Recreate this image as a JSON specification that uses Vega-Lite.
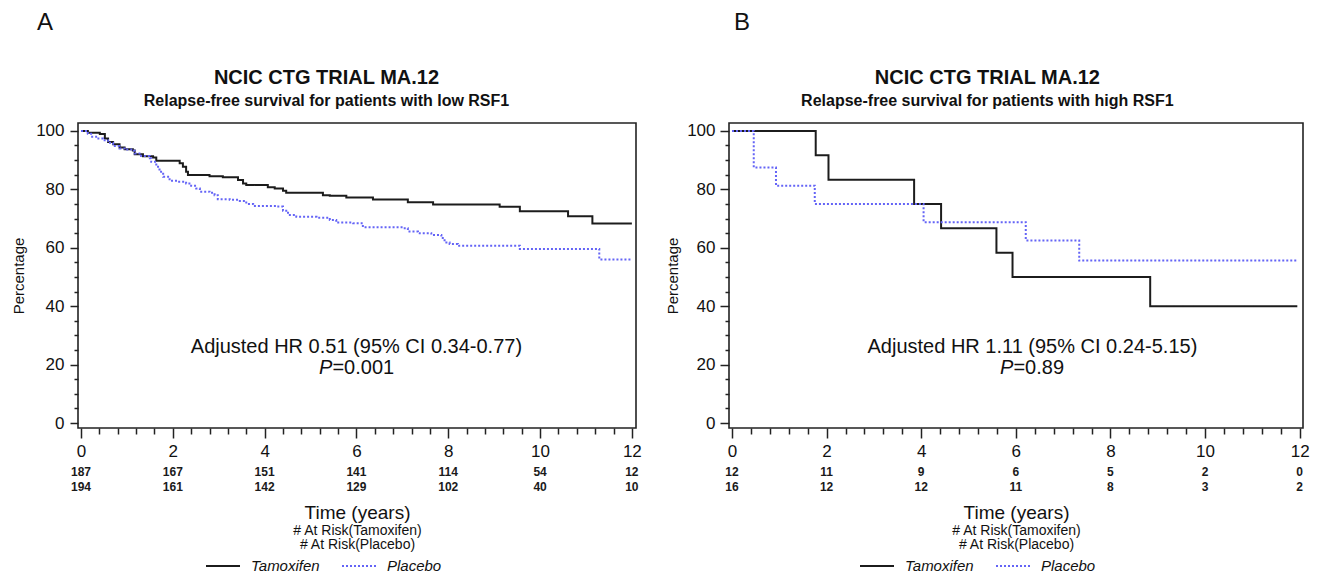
{
  "$schema": "https://vega.github.io/schema/vega-lite/v6.json",
  "background": "white",
  "padding": {"left": 10, "top": 11, "right": 5, "bottom": 0},
  "datasets": {
    "kmA": [
      {"time": 0, "surv": 100, "group": "Tamoxifen"},
      {"time": 0.15, "surv": 99.4, "group": "Tamoxifen"},
      {"time": 0.41, "surv": 98.9, "group": "Tamoxifen"},
      {"time": 0.52, "surv": 97.4, "group": "Tamoxifen"},
      {"time": 0.59, "surv": 96.2, "group": "Tamoxifen"},
      {"time": 0.70, "surv": 95.4, "group": "Tamoxifen"},
      {"time": 0.84, "surv": 94.3, "group": "Tamoxifen"},
      {"time": 0.95, "surv": 93.7, "group": "Tamoxifen"},
      {"time": 1.13, "surv": 93.3, "group": "Tamoxifen"},
      {"time": 1.17, "surv": 92.0, "group": "Tamoxifen"},
      {"time": 1.35, "surv": 91.3, "group": "Tamoxifen"},
      {"time": 1.57, "surv": 90.9, "group": "Tamoxifen"},
      {"time": 1.64, "surv": 89.8, "group": "Tamoxifen"},
      {"time": 2.15, "surv": 88.9, "group": "Tamoxifen"},
      {"time": 2.22, "surv": 87.7, "group": "Tamoxifen"},
      {"time": 2.29, "surv": 86.0, "group": "Tamoxifen"},
      {"time": 2.33, "surv": 84.9, "group": "Tamoxifen"},
      {"time": 2.80, "surv": 84.5, "group": "Tamoxifen"},
      {"time": 3.09, "surv": 84.1, "group": "Tamoxifen"},
      {"time": 3.42, "surv": 83.2, "group": "Tamoxifen"},
      {"time": 3.53, "surv": 82.0, "group": "Tamoxifen"},
      {"time": 3.60, "surv": 81.5, "group": "Tamoxifen"},
      {"time": 4.07, "surv": 80.7, "group": "Tamoxifen"},
      {"time": 4.22, "surv": 80.3, "group": "Tamoxifen"},
      {"time": 4.40, "surv": 79.5, "group": "Tamoxifen"},
      {"time": 4.47, "surv": 78.8, "group": "Tamoxifen"},
      {"time": 5.27, "surv": 78.0, "group": "Tamoxifen"},
      {"time": 5.42, "surv": 77.8, "group": "Tamoxifen"},
      {"time": 5.78, "surv": 77.2, "group": "Tamoxifen"},
      {"time": 6.36, "surv": 76.5, "group": "Tamoxifen"},
      {"time": 7.12, "surv": 75.6, "group": "Tamoxifen"},
      {"time": 7.67, "surv": 74.8, "group": "Tamoxifen"},
      {"time": 9.12, "surv": 74.0, "group": "Tamoxifen"},
      {"time": 9.56, "surv": 72.5, "group": "Tamoxifen"},
      {"time": 10.61, "surv": 70.8, "group": "Tamoxifen"},
      {"time": 11.14, "surv": 68.3, "group": "Tamoxifen"},
      {"time": 12.0, "surv": 68.3, "group": "Tamoxifen"},
      {"time": 0, "surv": 100, "group": "Placebo"},
      {"time": 0.15, "surv": 99.0, "group": "Placebo"},
      {"time": 0.22, "surv": 98.0, "group": "Placebo"},
      {"time": 0.33, "surv": 97.4, "group": "Placebo"},
      {"time": 0.48, "surv": 96.8, "group": "Placebo"},
      {"time": 0.59, "surv": 95.9, "group": "Placebo"},
      {"time": 0.70, "surv": 94.8, "group": "Placebo"},
      {"time": 0.84, "surv": 94.0, "group": "Placebo"},
      {"time": 0.95, "surv": 93.6, "group": "Placebo"},
      {"time": 1.13, "surv": 93.2, "group": "Placebo"},
      {"time": 1.17, "surv": 92.3, "group": "Placebo"},
      {"time": 1.31, "surv": 91.4, "group": "Placebo"},
      {"time": 1.50, "surv": 90.6, "group": "Placebo"},
      {"time": 1.53, "surv": 89.4, "group": "Placebo"},
      {"time": 1.64, "surv": 87.7, "group": "Placebo"},
      {"time": 1.71, "surv": 86.0, "group": "Placebo"},
      {"time": 1.79, "surv": 84.3, "group": "Placebo"},
      {"time": 1.93, "surv": 82.9, "group": "Placebo"},
      {"time": 2.11, "surv": 82.6, "group": "Placebo"},
      {"time": 2.29, "surv": 82.0, "group": "Placebo"},
      {"time": 2.40, "surv": 81.2, "group": "Placebo"},
      {"time": 2.51, "surv": 80.3, "group": "Placebo"},
      {"time": 2.59, "surv": 79.2, "group": "Placebo"},
      {"time": 2.80, "surv": 78.8, "group": "Placebo"},
      {"time": 2.91, "surv": 78.0, "group": "Placebo"},
      {"time": 2.98, "surv": 76.6, "group": "Placebo"},
      {"time": 3.24, "surv": 76.4, "group": "Placebo"},
      {"time": 3.46, "surv": 76.0, "group": "Placebo"},
      {"time": 3.60, "surv": 75.0, "group": "Placebo"},
      {"time": 3.75, "surv": 74.3, "group": "Placebo"},
      {"time": 4.26, "surv": 74.1, "group": "Placebo"},
      {"time": 4.40, "surv": 72.7, "group": "Placebo"},
      {"time": 4.51, "surv": 71.2, "group": "Placebo"},
      {"time": 4.69, "surv": 70.6, "group": "Placebo"},
      {"time": 5.13, "surv": 70.3, "group": "Placebo"},
      {"time": 5.42, "surv": 69.5, "group": "Placebo"},
      {"time": 5.56, "surv": 68.6, "group": "Placebo"},
      {"time": 5.93, "surv": 68.4, "group": "Placebo"},
      {"time": 6.14, "surv": 67.0, "group": "Placebo"},
      {"time": 7.02, "surv": 66.7, "group": "Placebo"},
      {"time": 7.12, "surv": 65.6, "group": "Placebo"},
      {"time": 7.34, "surv": 65.0, "group": "Placebo"},
      {"time": 7.63, "surv": 64.4, "group": "Placebo"},
      {"time": 7.85, "surv": 63.3, "group": "Placebo"},
      {"time": 7.92, "surv": 61.8, "group": "Placebo"},
      {"time": 8.03, "surv": 61.3, "group": "Placebo"},
      {"time": 8.21, "surv": 60.7, "group": "Placebo"},
      {"time": 9.56, "surv": 59.6, "group": "Placebo"},
      {"time": 11.29, "surv": 56.0, "group": "Placebo"},
      {"time": 12.0, "surv": 56.0, "group": "Placebo"}
    ],
    "kmB": [
      {"time": 0, "surv": 100, "group": "Tamoxifen"},
      {"time": 1.77, "surv": 91.7, "group": "Tamoxifen"},
      {"time": 2.04, "surv": 83.3, "group": "Tamoxifen"},
      {"time": 3.85, "surv": 75.0, "group": "Tamoxifen"},
      {"time": 4.42, "surv": 66.7, "group": "Tamoxifen"},
      {"time": 5.59, "surv": 58.3, "group": "Tamoxifen"},
      {"time": 5.93, "surv": 50.0, "group": "Tamoxifen"},
      {"time": 8.84, "surv": 40.0, "group": "Tamoxifen"},
      {"time": 11.95, "surv": 40.0, "group": "Tamoxifen"},
      {"time": 0, "surv": 100, "group": "Placebo"},
      {"time": 0.46, "surv": 87.5, "group": "Placebo"},
      {"time": 0.93, "surv": 81.25, "group": "Placebo"},
      {"time": 1.75, "surv": 75.0, "group": "Placebo"},
      {"time": 4.05, "surv": 68.75, "group": "Placebo"},
      {"time": 6.21, "surv": 62.5, "group": "Placebo"},
      {"time": 7.34, "surv": 55.6, "group": "Placebo"},
      {"time": 11.95, "surv": 55.6, "group": "Placebo"}
    ],
    "riskA": [
      {"time": 0, "group": "Tamoxifen", "n": 187},
      {"time": 2, "group": "Tamoxifen", "n": 167},
      {"time": 4, "group": "Tamoxifen", "n": 151},
      {"time": 6, "group": "Tamoxifen", "n": 141},
      {"time": 8, "group": "Tamoxifen", "n": 114},
      {"time": 10, "group": "Tamoxifen", "n": 54},
      {"time": 12, "group": "Tamoxifen", "n": 12},
      {"time": 0, "group": "Placebo", "n": 194},
      {"time": 2, "group": "Placebo", "n": 161},
      {"time": 4, "group": "Placebo", "n": 142},
      {"time": 6, "group": "Placebo", "n": 129},
      {"time": 8, "group": "Placebo", "n": 102},
      {"time": 10, "group": "Placebo", "n": 40},
      {"time": 12, "group": "Placebo", "n": 10}
    ],
    "riskB": [
      {"time": 0, "group": "Tamoxifen", "n": 12},
      {"time": 2, "group": "Tamoxifen", "n": 11},
      {"time": 4, "group": "Tamoxifen", "n": 9},
      {"time": 6, "group": "Tamoxifen", "n": 6},
      {"time": 8, "group": "Tamoxifen", "n": 5},
      {"time": 10, "group": "Tamoxifen", "n": 2},
      {"time": 12, "group": "Tamoxifen", "n": 0},
      {"time": 0, "group": "Placebo", "n": 16},
      {"time": 2, "group": "Placebo", "n": 12},
      {"time": 4, "group": "Placebo", "n": 12},
      {"time": 6, "group": "Placebo", "n": 11},
      {"time": 8, "group": "Placebo", "n": 8},
      {"time": 10, "group": "Placebo", "n": 3},
      {"time": 12, "group": "Placebo", "n": 2}
    ],
    "annA": [{"hr": "Adjusted HR 0.51 (95% CI 0.34-0.77)", "pLabel": "P", "pValue": "=0.001"}],
    "annB": [{"hr": "Adjusted HR 1.11 (95% CI 0.24-5.15)", "pLabel": "P", "pValue": "=0.89"}]
  },
  "hconcat": [
    {
      "title": {"text": "A", "anchor": "start", "frame": "group", "fontSize": 24, "fontWeight": "normal", "color": "#111", "dx": -41, "offset": 32},
      "resolve": {"scale": {"color": "independent", "strokeDash": "independent"}},
      "vconcat": [
        {
          "width": 558,
          "height": 305,
          "title": {"text": "NCIC CTG TRIAL MA.12", "subtitle": "Relapse-free survival for patients with low RSF1", "anchor": "middle", "frame": "bounds", "fontSize": 20, "fontWeight": "bold", "subtitleFontSize": 16, "subtitleFontWeight": "bold", "subtitlePadding": 5, "offset": 13, "color": "#111", "subtitleColor": "#111"},
          "resolve": {"scale": {"x": "independent", "y": "independent"}, "axis": {"x": "independent", "y": "independent"}},
          "layer": [
            {
              "data": {"name": "kmA"},
              "mark": {"type": "line", "interpolate": "step-after", "strokeWidth": 2},
              "encoding": {
                "x": {"field": "time", "type": "quantitative", "scale": {"domain": [-0.065, 12.09], "nice": false, "zero": false},
                      "axis": {"orient": "bottom", "values": [0, 2, 4, 6, 8, 10, 12], "tickSize": 10, "labelPadding": 5, "labelFontSize": 17, "title": "Time (years)", "titlePadding": 44, "titleFontSize": 19}},
                "y": {"field": "surv", "type": "quantitative", "scale": {"domain": [-1.7, 102.7], "nice": false, "zero": false},
                      "axis": {"orient": "left", "values": [0, 20, 40, 60, 80, 100], "tickSize": 8, "labelPadding": 6, "labelFontSize": 17, "title": "Percentage", "titleFontSize": 15, "titlePadding": 9}},
                "color": {"field": "group", "type": "nominal", "scale": {"domain": ["Tamoxifen", "Placebo"], "range": ["#1c1c1c", "#6464f6"]},
                          "legend": {"orient": "none", "legendX": 127, "legendY": 425, "direction": "horizontal", "title": null, "labelFontSize": 15, "labelFontStyle": "italic", "labelColor": "#111", "symbolType": "stroke", "symbolSize": 1156, "symbolStrokeWidth": 2, "labelOffset": 10, "columnPadding": 18, "padding": 0}},
                "strokeDash": {"field": "group", "type": "nominal", "scale": {"domain": ["Tamoxifen", "Placebo"], "range": [[1, 0], [2, 2]]},
                          "legend": {"orient": "none", "legendX": 127, "legendY": 425, "direction": "horizontal", "title": null, "labelFontSize": 15, "labelFontStyle": "italic", "labelColor": "#111", "symbolType": "stroke", "symbolSize": 1156, "symbolStrokeWidth": 2, "labelOffset": 10, "columnPadding": 18, "padding": 0}}
              }
            },
            {
              "data": {"name": "riskA"},
              "mark": {"type": "text", "fontSize": 12, "fontWeight": "bold", "color": "#1a1a1a", "baseline": "middle"},
              "encoding": {
                "x": {"field": "time", "type": "quantitative", "scale": {"domain": [-0.065, 12.09], "nice": false, "zero": false},
                      "axis": {"orient": "bottom", "domain": false, "ticks": false, "labels": false, "title": ["# At Risk(Tamoxifen)", "# At Risk(Placebo)"], "titleFontSize": 14, "titleLineHeight": 14, "titlePadding": 95}},
                "y": {"field": "group", "type": "nominal", "scale": {"type": "point", "domain": ["Tamoxifen", "Placebo"], "range": [349, 364], "padding": 0}, "axis": null},
                "text": {"field": "n", "type": "quantitative"}
              }
            },
            {
              "data": {"name": "annA"},
              "mark": {"type": "text", "fontSize": 20, "color": "#111", "baseline": "middle"},
              "encoding": {
                "x": {"datum": 6, "type": "quantitative", "scale": {"domain": [-0.065, 12.09], "nice": false, "zero": false},
                      "axis": {"orient": "bottom", "values": [0.4, 0.8, 1.2, 1.6, 2.4, 2.8, 3.2, 3.6, 4.4, 4.8, 5.2, 5.6, 6.4, 6.8, 7.2, 7.6, 8.4, 8.8, 9.2, 9.6, 10.4, 10.8, 11.2, 11.6], "tickSize": 6, "labels": false, "domain": false, "title": null}},
                "y": {"datum": 26, "type": "quantitative", "scale": {"domain": [-1.7, 102.7], "nice": false, "zero": false},
                      "axis": {"orient": "left", "values": [5, 10, 15, 25, 30, 35, 45, 50, 55, 65, 70, 75, 85, 90, 95], "tickSize": 4, "labels": false, "domain": false, "title": null}},
                "text": {"field": "hr", "type": "nominal"}
              }
            },
            {
              "data": {"name": "annA"},
              "mark": {"type": "text", "fontSize": 20, "fontStyle": "italic", "color": "#111", "baseline": "middle", "align": "right", "dx": -24},
              "encoding": {
                "x": {"datum": 6, "type": "quantitative", "scale": {"domain": [-0.065, 12.09], "nice": false, "zero": false}, "axis": null},
                "y": {"datum": 18.8, "type": "quantitative", "scale": {"domain": [-1.7, 102.7], "nice": false, "zero": false}, "axis": null},
                "text": {"field": "pLabel", "type": "nominal"}
              }
            },
            {
              "data": {"name": "annA"},
              "mark": {"type": "text", "fontSize": 20, "color": "#111", "baseline": "middle", "align": "left", "dx": -24},
              "encoding": {
                "x": {"datum": 6, "type": "quantitative", "scale": {"domain": [-0.065, 12.09], "nice": false, "zero": false}, "axis": null},
                "y": {"datum": 18.8, "type": "quantitative", "scale": {"domain": [-1.7, 102.7], "nice": false, "zero": false}, "axis": null},
                "text": {"field": "pValue", "type": "nominal"}
              }
            }
          ]
        }
      ]
    },
    {
      "title": {"text": "B", "anchor": "start", "frame": "group", "fontSize": 24, "fontWeight": "normal", "color": "#111", "dx": 5, "offset": 32},
      "resolve": {"scale": {"color": "independent", "strokeDash": "independent"}},
      "vconcat": [
        {
          "width": 574,
          "height": 305,
          "title": {"text": "NCIC CTG TRIAL MA.12", "subtitle": "Relapse-free survival for patients with high RSF1", "anchor": "middle", "frame": "bounds", "fontSize": 20, "fontWeight": "bold", "subtitleFontSize": 16, "subtitleFontWeight": "bold", "subtitlePadding": 5, "offset": 13, "color": "#111", "subtitleColor": "#111"},
          "resolve": {"scale": {"x": "independent", "y": "independent"}, "axis": {"x": "independent", "y": "independent"}},
          "layer": [
            {
              "data": {"name": "kmB"},
              "mark": {"type": "line", "interpolate": "step-after", "strokeWidth": 2},
              "encoding": {
                "x": {"field": "time", "type": "quantitative", "scale": {"domain": [-0.063, 12.07], "nice": false, "zero": false},
                      "axis": {"orient": "bottom", "values": [0, 2, 4, 6, 8, 10, 12], "tickSize": 10, "labelPadding": 5, "labelFontSize": 17, "title": "Time (years)", "titlePadding": 44, "titleFontSize": 19}},
                "y": {"field": "surv", "type": "quantitative", "scale": {"domain": [-1.7, 102.7], "nice": false, "zero": false},
                      "axis": {"orient": "left", "values": [0, 20, 40, 60, 80, 100], "tickSize": 9, "labelPadding": 5, "labelFontSize": 17, "title": "Percentage", "titleFontSize": 15, "titlePadding": 6}},
                "color": {"field": "group", "type": "nominal", "scale": {"domain": ["Tamoxifen", "Placebo"], "range": ["#1c1c1c", "#6464f6"]},
                          "legend": {"orient": "none", "legendX": 130, "legendY": 425, "direction": "horizontal", "title": null, "labelFontSize": 15, "labelFontStyle": "italic", "labelColor": "#111", "symbolType": "stroke", "symbolSize": 1156, "symbolStrokeWidth": 2, "labelOffset": 10, "columnPadding": 18, "padding": 0}},
                "strokeDash": {"field": "group", "type": "nominal", "scale": {"domain": ["Tamoxifen", "Placebo"], "range": [[1, 0], [2, 2]]},
                          "legend": {"orient": "none", "legendX": 130, "legendY": 425, "direction": "horizontal", "title": null, "labelFontSize": 15, "labelFontStyle": "italic", "labelColor": "#111", "symbolType": "stroke", "symbolSize": 1156, "symbolStrokeWidth": 2, "labelOffset": 10, "columnPadding": 18, "padding": 0}}
              }
            },
            {
              "data": {"name": "riskB"},
              "mark": {"type": "text", "fontSize": 12, "fontWeight": "bold", "color": "#1a1a1a", "baseline": "middle"},
              "encoding": {
                "x": {"field": "time", "type": "quantitative", "scale": {"domain": [-0.063, 12.07], "nice": false, "zero": false},
                      "axis": {"orient": "bottom", "domain": false, "ticks": false, "labels": false, "title": ["# At Risk(Tamoxifen)", "# At Risk(Placebo)"], "titleFontSize": 14, "titleLineHeight": 14, "titlePadding": 95}},
                "y": {"field": "group", "type": "nominal", "scale": {"type": "point", "domain": ["Tamoxifen", "Placebo"], "range": [349, 364], "padding": 0}, "axis": null},
                "text": {"field": "n", "type": "quantitative"}
              }
            },
            {
              "data": {"name": "annB"},
              "mark": {"type": "text", "fontSize": 20, "color": "#111", "baseline": "middle"},
              "encoding": {
                "x": {"datum": 6.35, "type": "quantitative", "scale": {"domain": [-0.063, 12.07], "nice": false, "zero": false},
                      "axis": {"orient": "bottom", "values": [0.4, 0.8, 1.2, 1.6, 2.4, 2.8, 3.2, 3.6, 4.4, 4.8, 5.2, 5.6, 6.4, 6.8, 7.2, 7.6, 8.4, 8.8, 9.2, 9.6, 10.4, 10.8, 11.2, 11.6], "tickSize": 6, "labels": false, "domain": false, "title": null}},
                "y": {"datum": 26, "type": "quantitative", "scale": {"domain": [-1.7, 102.7], "nice": false, "zero": false},
                      "axis": {"orient": "left", "values": [5, 10, 15, 25, 30, 35, 45, 50, 55, 65, 70, 75, 85, 90, 95], "tickSize": 4, "labels": false, "domain": false, "title": null}},
                "text": {"field": "hr", "type": "nominal"}
              }
            },
            {
              "data": {"name": "annB"},
              "mark": {"type": "text", "fontSize": 20, "fontStyle": "italic", "color": "#111", "baseline": "middle", "align": "right", "dx": -19},
              "encoding": {
                "x": {"datum": 6.35, "type": "quantitative", "scale": {"domain": [-0.063, 12.07], "nice": false, "zero": false}, "axis": null},
                "y": {"datum": 18.8, "type": "quantitative", "scale": {"domain": [-1.7, 102.7], "nice": false, "zero": false}, "axis": null},
                "text": {"field": "pLabel", "type": "nominal"}
              }
            },
            {
              "data": {"name": "annB"},
              "mark": {"type": "text", "fontSize": 20, "color": "#111", "baseline": "middle", "align": "left", "dx": -19},
              "encoding": {
                "x": {"datum": 6.35, "type": "quantitative", "scale": {"domain": [-0.063, 12.07], "nice": false, "zero": false}, "axis": null},
                "y": {"datum": 18.8, "type": "quantitative", "scale": {"domain": [-1.7, 102.7], "nice": false, "zero": false}, "axis": null},
                "text": {"field": "pValue", "type": "nominal"}
              }
            }
          ]
        }
      ]
    }
  ],
  "spacing": 21,
  "resolve": {"scale": {"color": "independent", "strokeDash": "independent"}, "legend": {"color": "independent", "strokeDash": "independent"}},
  "config": {
    "font": "Liberation Sans",
    "view": {"stroke": "#222", "strokeWidth": 1.6},
    "axis": {"grid": false, "domain": false, "tickColor": "#222", "tickWidth": 1.5, "labelFontSize": 16, "labelColor": "#111", "titleColor": "#111", "titleFontWeight": "normal", "labelFlush": false, "labelOverlap": false, "labelBound": false},
    "concat": {"spacing": 0}
  }
}
